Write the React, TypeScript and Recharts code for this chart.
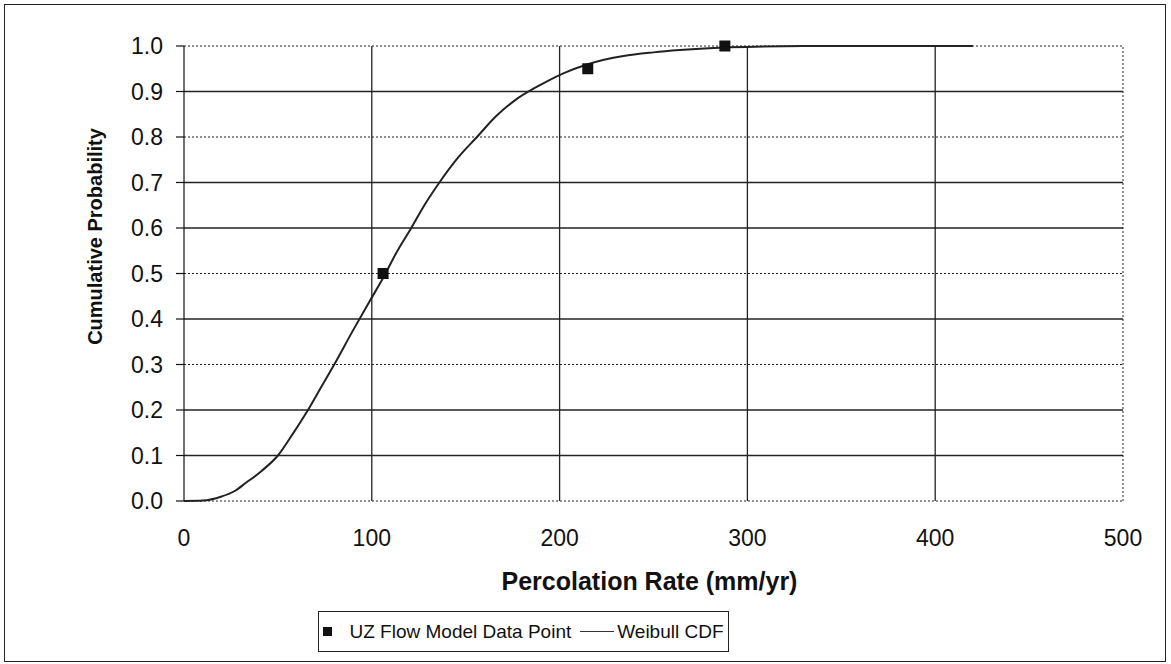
import React from "react";
import {
  ComposedChart,
  Line,
  Scatter,
  XAxis,
  YAxis,
  ReferenceLine,
  Legend,
} from "recharts";

// ---- data ----
const curveX = [0, 10, 20, 27, 33, 41, 50, 58, 66, 73, 80, 90, 99, 106, 113, 121, 128, 136, 146, 156, 166, 176, 190, 202, 215, 234, 250, 264, 290, 330, 420];
const curveY = [0, 0.001, 0.01, 0.022, 0.04, 0.065, 0.1, 0.148, 0.2, 0.25, 0.3, 0.375, 0.44, 0.49, 0.545, 0.6, 0.65, 0.7, 0.755, 0.8, 0.845, 0.88, 0.915, 0.94, 0.96, 0.978, 0.986, 0.991, 0.997, 1.0, 1.0];
const pointX = [106, 215, 288];
const pointY = [0.5, 0.95, 1.0];
const xTicks = [0, 100, 200, 300, 400, 500];
const yTicks = [0, 0.1, 0.2, 0.3, 0.4, 0.5, 0.6, 0.7, 0.8, 0.9, 1.0];
const dottedYTicks = [0, 0.3, 0.5, 0.8, 1.0];

const curve = curveX.map((x, i) => ({ x, cdf: curveY[i] }));
const points = pointX.map((x, i) => ({ x, p: pointY[i] }));

const FONT = "'Liberation Sans', Arial, sans-serif";

const Square = (props: any) => {
  const { cx, cy } = props;
  if (cx == null || cy == null) return null;
  return <rect x={cx - 5.5} y={cy - 5.5} width={11} height={11} fill="#111" />;
};

const YTitle = (props: any) => {
  const vb = props.viewBox || { x: 0, y: 0, width: 0, height: 0 };
  const cx = vb.x + vb.width / 2 + 3;
  const cy = vb.y + vb.height / 2 - 37;
  return (
    <text
      x={0}
      y={0}
      transform={`translate(${cx},${cy}) rotate(-90)`}
      textAnchor="middle"
      dominantBaseline="central"
      style={{ fill: "#111", fontSize: 20, fontWeight: "bold", fontFamily: FONT }}
    >
      Cumulative Probability
    </text>
  );
};

const XTitle = (props: any) => {
  const vb = props.viewBox || { x: 0, y: 0, width: 0, height: 0 };
  const cx = vb.x + vb.width / 2 - 4;
  const top = vb.y + vb.height + 4;
  return (
    <text
      x={cx}
      y={top + 17}
      textAnchor="middle"
      style={{ fill: "#111", fontSize: 25, fontWeight: "bold", fontFamily: FONT }}
    >
      Percolation Rate (mm/yr)
    </text>
  );
};

const LegendBox = () => (
  <div
    style={{
      border: "1px solid #222",
      height: 41,
      boxSizing: "border-box",
      display: "flex",
      alignItems: "center",
      justifyContent: "center",
      fontFamily: FONT,
      fontSize: 19,
      color: "#111",
      background: "#fff",
    }}
  >
    <span style={{ display: "inline-block", width: 9, height: 9, background: "#111", marginRight: 17 }} />
    <span>UZ Flow Model Data Point</span>
    <span style={{ display: "inline-block", width: 34, borderTop: "1.5px solid #333", margin: "0 3px 0 9px" }} />
    <span>Weibull CDF</span>
  </div>
);

export default function App() {
  return (
    <div style={{ position: "absolute", left: 0, top: 0, width: 1171, height: 664, background: "#fff" }}>
      <div
        style={{
          position: "absolute",
          left: 4,
          top: 4,
          width: 1162,
          height: 658,
          border: "1px solid #222",
          boxSizing: "border-box",
        }}
      />
      <div style={{ position: "absolute", left: 0, top: 0 }}>
        <ComposedChart
          width={1171}
          height={664}
          margin={{ top: 46, right: 48, left: 0, bottom: 54 }}
        >
          <XAxis
            type="number"
            dataKey="x"
            domain={[0, 500]}
            ticks={xTicks}
            axisLine={false}
            tickLine={false}
            tickSize={0}
            tickMargin={29}
            height={68}
            tick={{ fill: "#111", fontSize: 23, fontFamily: FONT }}
            label={{ content: (p: any) => <XTitle {...p} /> }}
          />
          <YAxis
            type="number"
            domain={[0, 1]}
            ticks={yTicks}
            width={184}
            tickSize={8}
            tickMargin={13}
            axisLine={{ stroke: "#111", strokeWidth: 1.2 }}
            tickLine={{ stroke: "#111", strokeWidth: 1.2 }}
            tickFormatter={(v: number) => v.toFixed(1)}
            tick={{ fill: "#111", fontSize: 23, fontFamily: FONT }}
            label={{ content: (p: any) => <YTitle {...p} /> }}
          />
          {yTicks.map((t) => (
            <ReferenceLine
              key={"y" + t}
              y={t}
              stroke="#222"
              strokeWidth={dottedYTicks.includes(t) ? 1 : 1.3}
              strokeDasharray={dottedYTicks.includes(t) ? "2 2" : undefined}
            />
          ))}
          {xTicks.slice(1).map((t) => (
            <ReferenceLine
              key={"x" + t}
              x={t}
              stroke="#222"
              strokeWidth={t === 500 ? 1 : 1.3}
              strokeDasharray={t === 500 ? "2 2" : undefined}
            />
          ))}
          <Legend
            verticalAlign="bottom"
            content={() => <LegendBox />}
            wrapperStyle={{ position: "absolute", left: 318, top: 611, width: 411, height: 41 }}
          />
          <Line
            data={curve}
            dataKey="cdf"
            type="monotone"
            stroke="#222"
            strokeWidth={2}
            dot={false}
            isAnimationActive={false}
            legendType="line"
            name="Weibull CDF"
          />
          <Scatter
            data={points}
            dataKey="p"
            fill="#111"
            shape={<Square />}
            isAnimationActive={false}
            name="UZ Flow Model Data Point"
          />
        </ComposedChart>
      </div>
    </div>
  );
}
